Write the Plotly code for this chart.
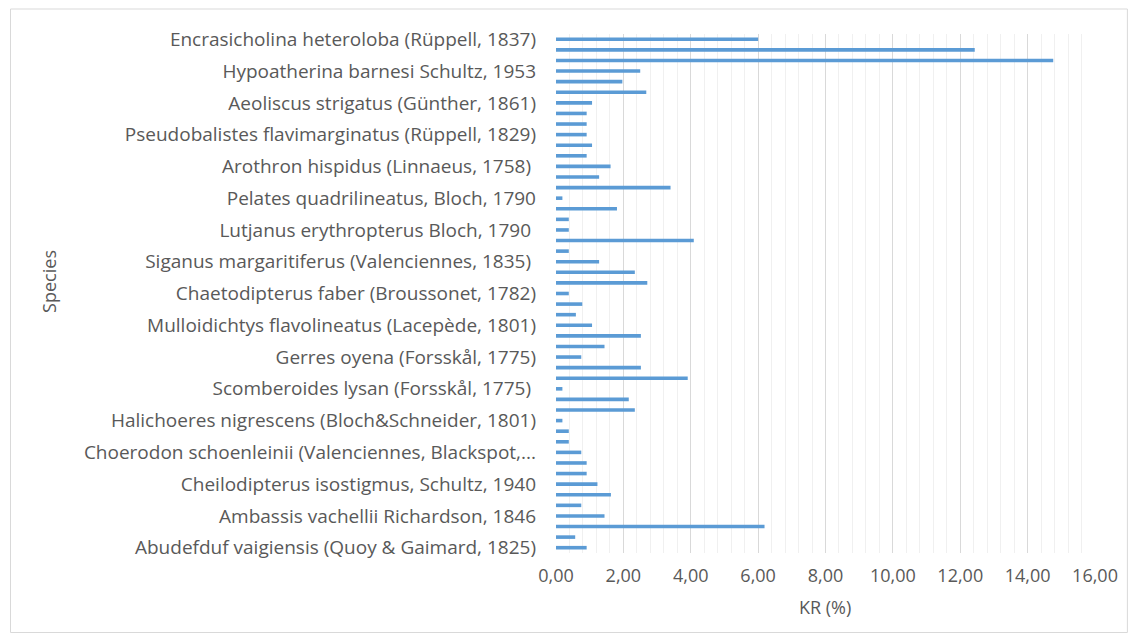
import plotly.graph_objects as go

# KR (%) values, top to bottom (49 species)
kr_values = [6.00, 12.43, 14.76, 2.50, 1.97, 2.68, 1.07, 0.91, 0.91, 0.91,
             1.07, 0.91, 1.62, 1.28, 3.40, 0.19, 1.81, 0.38, 0.38, 4.09,
             0.38, 1.28, 2.34, 2.71, 0.38, 0.78, 0.59, 1.07, 2.52, 1.44,
             0.75, 2.52, 3.91, 0.19, 2.16, 2.34, 0.19, 0.38, 0.38, 0.75,
             0.91, 0.91, 1.23, 1.63, 0.75, 1.44, 6.19, 0.57, 0.91]

# Visible species labels (every third species is labelled on the axis)
species_labels = [
    "Encrasicholina heteroloba (Rüppell, 1837)",
    "Hypoatherina barnesi Schultz, 1953",
    "Aeoliscus strigatus (Günther, 1861)",
    "Pseudobalistes flavimarginatus (Rüppell, 1829)",
    "Arothron hispidus (Linnaeus, 1758) ",
    "Pelates quadrilineatus, Bloch, 1790",
    "Lutjanus erythropterus Bloch, 1790 ",
    "Siganus margaritiferus (Valenciennes, 1835) ",
    "Chaetodipterus faber (Broussonet, 1782)",
    "Mulloidichtys flavolineatus (Lacepède, 1801)",
    "Gerres oyena (Forsskål, 1775)",
    "Scomberoides lysan (Forsskål, 1775) ",
    "Halichoeres nigrescens (Bloch&Schneider, 1801)",
    "Choerodon schoenleinii (Valenciennes, Blackspot,...",
    "Cheilodipterus isostigmus, Schultz, 1940",
    "Ambassis vachellii Richardson, 1846",
    "Abudefduf vaigiensis (Quoy & Gaimard, 1825)",
]
label_step = 3
x_ticks = [0, 2, 4, 6, 8, 10, 12, 14, 16]
x_title = "KR (%)"
y_title = "Species"

positions = list(range(len(kr_values)))
label_positions = positions[::label_step]

font_family = "Open Sans, Lato, sans-serif"
text_color = "#595959"
fs = 18

# page has an 8px body margin; figure sized to fit the 1138x641 window
OFF = 8
W, H = 1122, 625
L, R, T, B = 548, 33, 26, 80
pw, ph = W - L - R, H - T - B

def paper_x(page_px):
    return (page_px - OFF - L) / pw

def paper_y(page_py):
    return (H - B - (page_py - OFF)) / ph

fig = go.Figure(go.Bar(
    x=kr_values,
    y=positions,
    orientation="h",
    marker=dict(color="#5B9BD5", line=dict(width=0)),
    width=0.34,
))

fig.update_layout(
    width=W, height=H,
    margin=dict(l=L, r=R, t=T, b=B),
    paper_bgcolor="white",
    plot_bgcolor="white",
    separators=",.",
    showlegend=False,
    font=dict(family=font_family, color=text_color, size=fs),
    xaxis=dict(
        range=[0, 16],
        tickvals=x_ticks,
        tickformat=".2f",
        showgrid=True,
        gridcolor="#D9D9D9",
        gridwidth=1,
        minor=dict(dtick=0.4, showgrid=True, gridcolor="#F0F0F0", gridwidth=1),
        zeroline=False,
        showline=False,
        ticks="",
        ticklabelstandoff=10,
        tickfont=dict(size=fs, color=text_color),
    ),
    yaxis=dict(
        range=[len(kr_values) - 0.5, -0.5],
        tickvals=label_positions,
        ticktext=species_labels,
        showgrid=False,
        zeroline=False,
        showline=False,
        ticks="",
        ticklabelstandoff=19,
        tickfont=dict(size=19, color=text_color),
    ),
    annotations=[
        dict(text=x_title, xref="paper", yref="paper",
             x=paper_x(826), y=paper_y(607), xanchor="center", yanchor="middle",
             showarrow=False, font=dict(size=fs, color=text_color)),
        dict(text=y_title, xref="paper", yref="paper",
             x=paper_x(47), y=paper_y(281), xanchor="center", yanchor="middle",
             textangle=-90, showarrow=False, font=dict(size=fs, color=text_color)),
    ],
    shapes=[dict(
        type="rect", xref="paper", yref="paper",
        x0=paper_x(8.5), x1=paper_x(1129.5),
        y0=paper_y(632.5), y1=paper_y(9),
        line=dict(color="#D9D9D9", width=1), fillcolor="rgba(0,0,0,0)",
        layer="below",
    )],
)

fig.write_html("out.html")
